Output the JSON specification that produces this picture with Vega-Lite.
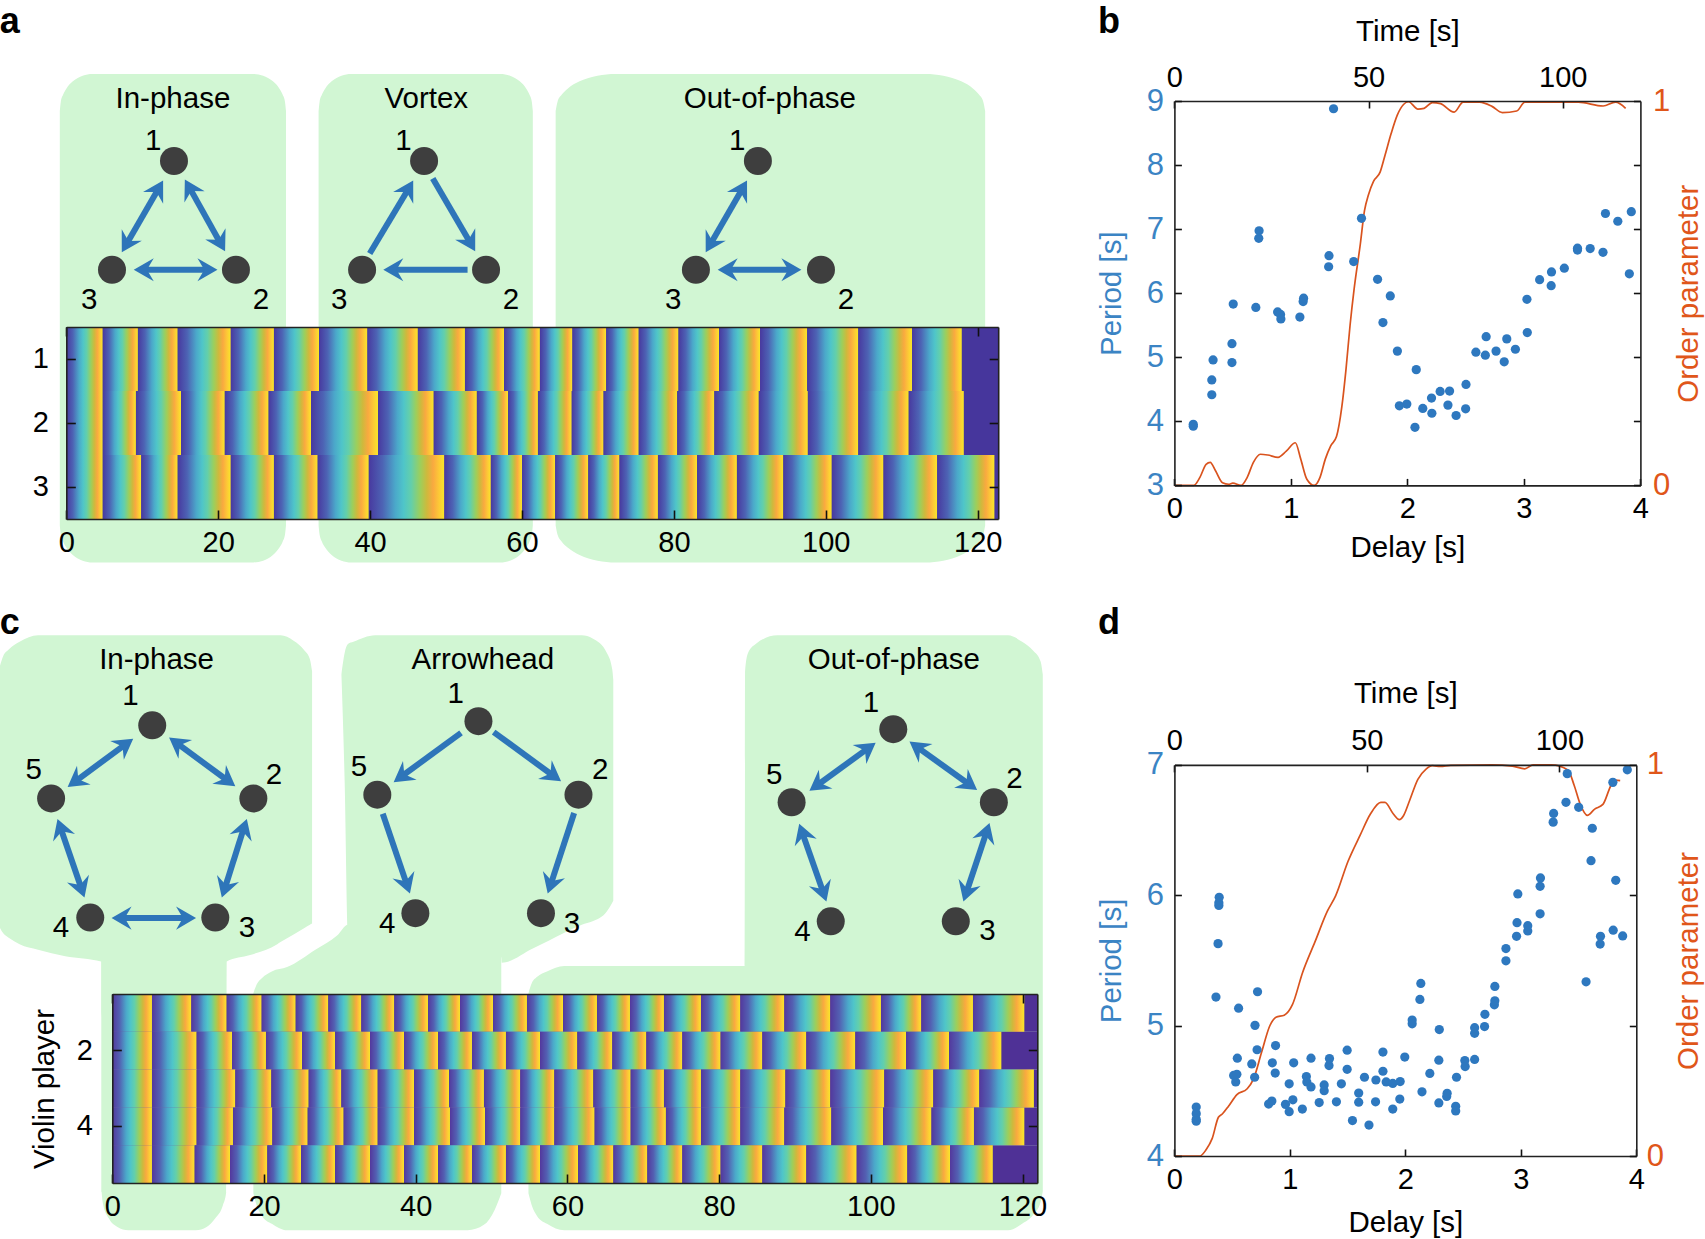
{
"$schema":"https://vega.github.io/schema/vega-lite/v6.json",
"width":1705,"height":1239,"padding":0,"autosize":{"type":"none"},"background":"white",
"config":{"view":{"stroke":null},"font":"Liberation Sans","text":{"font":"Liberation Sans"},
"axis":{"grid":false,"labelFont":"Liberation Sans","titleFont":"Liberation Sans","labelFontSize":29,"titleFontSize":29.5,"titleFontWeight":"normal","labelColor":"#000","titleColor":"#000","domainColor":"#222","domainWidth":1.6,"tickColor":"#111","tickWidth":1.6,"tickSize":-7,"labelPadding":16,"labelOverlap":false,"labelFlush":false,"labelBound":false}},
"datasets":{
"blobs":[
{"blob":"a1","x":55,"top":102,"bottom":483},{"blob":"a1","x":55.9,"top":93.7,"bottom":491.3},{"blob":"a1","x":58,"top":87.2,"bottom":497.8},{"blob":"a1","x":61,"top":81.6,"bottom":503.4},{"blob":"a1","x":67,"top":74.8,"bottom":510.2},{"blob":"a1","x":76,"top":69.6,"bottom":515.4},{"blob":"a1","x":85,"top":68,"bottom":517},{"blob":"a1","x":233,"top":68,"bottom":517},{"blob":"a1","x":242,"top":69.6,"bottom":515.4},{"blob":"a1","x":251,"top":74.8,"bottom":510.2},{"blob":"a1","x":257,"top":81.6,"bottom":503.4},{"blob":"a1","x":260,"top":87.2,"bottom":497.8},{"blob":"a1","x":262.1,"top":93.7,"bottom":491.3},{"blob":"a1","x":263,"top":102,"bottom":483},
{"blob":"a2","x":293,"top":102,"bottom":483},{"blob":"a2","x":293.9,"top":93.7,"bottom":491.3},{"blob":"a2","x":296,"top":87.2,"bottom":497.8},{"blob":"a2","x":299,"top":81.6,"bottom":503.4},{"blob":"a2","x":305,"top":74.8,"bottom":510.2},{"blob":"a2","x":314,"top":69.6,"bottom":515.4},{"blob":"a2","x":323,"top":68,"bottom":517},{"blob":"a2","x":460,"top":68,"bottom":517},{"blob":"a2","x":469,"top":69.6,"bottom":515.4},{"blob":"a2","x":478,"top":74.8,"bottom":510.2},{"blob":"a2","x":484,"top":81.6,"bottom":503.4},{"blob":"a2","x":487,"top":87.2,"bottom":497.8},{"blob":"a2","x":489.1,"top":93.7,"bottom":491.3},{"blob":"a2","x":490,"top":102,"bottom":483},
{"blob":"a3","x":511,"top":102,"bottom":483},{"blob":"a3","x":512.7,"top":93.7,"bottom":491.3},{"blob":"a3","x":516.5,"top":87.2,"bottom":497.8},{"blob":"a3","x":522,"top":81.6,"bottom":503.4},{"blob":"a3","x":533,"top":74.8,"bottom":510.2},{"blob":"a3","x":549.5,"top":69.6,"bottom":515.4},{"blob":"a3","x":566,"top":68,"bottom":517},{"blob":"a3","x":851,"top":68,"bottom":517},{"blob":"a3","x":867.5,"top":69.6,"bottom":515.4},{"blob":"a3","x":884,"top":74.8,"bottom":510.2},{"blob":"a3","x":895,"top":81.6,"bottom":503.4},{"blob":"a3","x":900.5,"top":87.2,"bottom":497.8},{"blob":"a3","x":904.3,"top":93.7,"bottom":491.3},{"blob":"a3","x":906,"top":102,"bottom":483},
{"blob":"c1","x":0,"top":612,"bottom":853},{"blob":"c1","x":3,"top":603,"bottom":858},{"blob":"c1","x":8,"top":597,"bottom":862},{"blob":"c1","x":18,"top":590,"bottom":868},{"blob":"c1","x":35,"top":584,"bottom":873},{"blob":"c1","x":60,"top":584,"bottom":879},{"blob":"c1","x":93,"top":584,"bottom":884},{"blob":"c1","x":93.5,"top":584,"bottom":1096},{"blob":"c1","x":95,"top":584,"bottom":1108},{"blob":"c1","x":100,"top":584,"bottom":1120},{"blob":"c1","x":108,"top":584,"bottom":1128},{"blob":"c1","x":118,"top":584,"bottom":1131},{"blob":"c1","x":180,"top":584,"bottom":1131},{"blob":"c1","x":190,"top":584,"bottom":1128},{"blob":"c1","x":198,"top":584,"bottom":1120},{"blob":"c1","x":205,"top":584,"bottom":1108},{"blob":"c1","x":208,"top":584,"bottom":1096},{"blob":"c1","x":208.5,"top":584,"bottom":884},{"blob":"c1","x":230,"top":584,"bottom":878},{"blob":"c1","x":255,"top":584,"bottom":868},{"blob":"c1","x":258,"top":584,"bottom":866},{"blob":"c1","x":270,"top":589,"bottom":859},{"blob":"c1","x":280,"top":598,"bottom":853},{"blob":"c1","x":285,"top":606,"bottom":850},{"blob":"c1","x":287,"top":617,"bottom":849},
{"blob":"c2a","x":314,"top":620,"bottom":620},{"blob":"c2a","x":317,"top":600,"bottom":720},{"blob":"c2a","x":320,"top":592,"bottom":860},{"blob":"c2a","x":325,"top":590,"bottom":880},{"blob":"c2a","x":345,"top":584,"bottom":880},{"blob":"c2a","x":461,"top":584,"bottom":880},{"blob":"c2a","x":461.5,"top":584,"bottom":885},{"blob":"c2a","x":490,"top":584,"bottom":872},{"blob":"c2a","x":520,"top":584,"bottom":857},{"blob":"c2a","x":535,"top":584,"bottom":850},{"blob":"c2a","x":545,"top":587,"bottom":847},{"blob":"c2a","x":558,"top":600,"bottom":838},{"blob":"c2a","x":563,"top":615,"bottom":830},{"blob":"c2a","x":564,"top":625,"bottom":828},
{"blob":"c2b","x":233,"top":913,"bottom":1097},{"blob":"c2b","x":236,"top":905,"bottom":1108},{"blob":"c2b","x":241,"top":899,"bottom":1118},{"blob":"c2b","x":250,"top":893,"bottom":1125},{"blob":"c2b","x":264,"top":889,"bottom":1131},{"blob":"c2b","x":290,"top":873,"bottom":1131},{"blob":"c2b","x":310,"top":860,"bottom":1131},{"blob":"c2b","x":320,"top":850,"bottom":1131},{"blob":"c2b","x":430,"top":850,"bottom":1131},{"blob":"c2b","x":445,"top":850,"bottom":1126},{"blob":"c2b","x":455,"top":850,"bottom":1112},{"blob":"c2b","x":461,"top":850,"bottom":1097},
{"blob":"c3","x":486,"top":913,"bottom":1097},{"blob":"c3","x":489,"top":904,"bottom":1108},{"blob":"c3","x":494,"top":898,"bottom":1118},{"blob":"c3","x":503,"top":893,"bottom":1125},{"blob":"c3","x":519,"top":888,"bottom":1131},{"blob":"c3","x":685,"top":888,"bottom":1131},{"blob":"c3","x":685.2,"top":617,"bottom":1131},{"blob":"c3","x":688,"top":600,"bottom":1131},{"blob":"c3","x":695,"top":592,"bottom":1131},{"blob":"c3","x":715,"top":584,"bottom":1131},{"blob":"c3","x":927,"top":584,"bottom":1131},{"blob":"c3","x":940,"top":590,"bottom":1125},{"blob":"c3","x":950,"top":598,"bottom":1117},{"blob":"c3","x":957,"top":608,"bottom":1105},{"blob":"c3","x":959,"top":620,"bottom":1095}
],
"nodes":[
{"x":160,"y":148},{"x":217,"y":248},{"x":103,"y":248},
{"x":390,"y":148},{"x":447,"y":248},{"x":333,"y":248},
{"x":697,"y":148},{"x":755,"y":248},{"x":640,"y":248},
{"x":140,"y":666.8},{"x":233,"y":734},{"x":198,"y":843.5},{"x":83,"y":843.5},{"x":47,"y":734},
{"x":440,"y":663},{"x":532,"y":730.5},{"x":497.5,"y":839.5},{"x":382,"y":839.5},{"x":347,"y":730.5},
{"x":821.5,"y":670.3},{"x":914,"y":737.5},{"x":879,"y":847},{"x":764,"y":847},{"x":728,"y":737.5}
],
"shafts":[
{"x":146,"y":173,"xe":116,"ye":225},{"x":174,"y":172,"xe":203,"ye":224},{"x":131,"y":248,"xe":192,"ye":248},
{"x":340,"y":233,"xe":376,"ye":173},{"x":398,"y":164,"xe":433,"ye":224},{"x":430,"y":248,"xe":360,"ye":248},
{"x":683,"y":173,"xe":653,"ye":225},{"x":668,"y":248,"xe":729,"ye":248},
{"x":116,"y":683.8,"xe":68.7,"ye":718.7},{"x":162,"y":682.7,"xe":209.9,"ye":718},{"x":224.5,"y":760.4,"xe":206.5,"ye":817.5},{"x":55.5,"y":760.4,"xe":75.1,"ye":817.5},{"x":110.6,"y":844,"xe":172.3,"ye":844},
{"x":424,"y":673.7,"xe":368.5,"ye":714.3},{"x":454,"y":673,"xe":509.5,"ye":713.6},{"x":352,"y":748,"xe":374.4,"ye":813.9},{"x":528,"y":747.4,"xe":506.2,"ye":813.9},
{"x":798.8,"y":687.5,"xe":750.9,"ye":722.3},{"x":842.9,"y":686.4,"xe":892.1,"ye":721.6},{"x":737.6,"y":764.8,"xe":757.4,"ye":821.1},{"x":907.5,"y":764.1,"xe":888.5,"ye":821.1}
],
"heads":[
{"x":150,"y":166,"heading":30},{"x":112,"y":232,"heading":210},{"x":170,"y":165,"heading":331},{"x":207,"y":231,"heading":151},{"x":123,"y":248,"heading":270},{"x":200,"y":248,"heading":90},
{"x":380,"y":166,"heading":30},{"x":437,"y":231,"heading":150},{"x":352.5,"y":248,"heading":270},
{"x":687,"y":166,"heading":30},{"x":649,"y":232,"heading":210},{"x":660,"y":248,"heading":270},{"x":737,"y":248,"heading":90},
{"x":122.5,"y":679.1,"heading":54},{"x":62.2,"y":723.4,"heading":234},{"x":155.5,"y":678,"heading":306},{"x":216.4,"y":722.7,"heading":126},{"x":227,"y":752.8,"heading":18},{"x":204,"y":825.1,"heading":198},{"x":52.9,"y":752.8,"heading":341},{"x":77.7,"y":825.1,"heading":161},{"x":102.6,"y":844,"heading":270},{"x":180.3,"y":844,"heading":90},
{"x":362,"y":719,"heading":234},{"x":516,"y":718.3,"heading":126},{"x":377,"y":821.5,"heading":161},{"x":503.7,"y":821.5,"heading":198},
{"x":805.3,"y":682.8,"heading":54},{"x":744.4,"y":727,"heading":234},{"x":836.4,"y":681.7,"heading":306},{"x":898.6,"y":726.3,"heading":126},{"x":735,"y":757.2,"heading":341},{"x":760,"y":828.7,"heading":161},{"x":910,"y":756.5,"heading":18},{"x":886,"y":828.7,"heading":198}
],
"labels":[
{"x":159,"y":91,"t":"In-phase"},{"x":392,"y":91,"t":"Vortex"},{"x":708,"y":91,"t":"Out-of-phase"},{"x":144,"y":607,"t":"In-phase"},{"x":444,"y":607,"t":"Arrowhead"},{"x":822,"y":607,"t":"Out-of-phase"},
{"x":141,"y":130,"t":"1"},{"x":240,"y":276,"t":"2"},{"x":82,"y":276,"t":"3"},
{"x":371,"y":130,"t":"1"},{"x":470,"y":276,"t":"2"},{"x":312,"y":276,"t":"3"},
{"x":678,"y":130,"t":"1"},{"x":778,"y":276,"t":"2"},{"x":619,"y":276,"t":"3"},
{"x":120,"y":640,"t":"1"},{"x":252,"y":712,"t":"2"},{"x":227,"y":853,"t":"3"},{"x":56,"y":853,"t":"4"},{"x":31,"y":708,"t":"5"},
{"x":419,"y":638,"t":"1"},{"x":552,"y":708,"t":"2"},{"x":526,"y":849,"t":"3"},{"x":356,"y":849,"t":"4"},{"x":330,"y":705,"t":"5"},
{"x":801,"y":646,"t":"1"},{"x":933,"y":716,"t":"2"},{"x":908,"y":856,"t":"3"},{"x":738,"y":857,"t":"4"},{"x":712,"y":712,"t":"5"}
],
"letters":[{"x":9,"y":30,"t":"a"},{"x":1020,"y":30,"t":"b"},{"x":9,"y":583,"t":"c"},{"x":1020,"y":583,"t":"d"}],
"cyclesA":[
{"player":1,"start":0,"end":4.8},{"player":1,"start":4.8,"end":9.43},{"player":1,"start":9.43,"end":14.67},{"player":1,"start":14.67,"end":21.66},{"player":1,"start":21.66,"end":27.34},{"player":1,"start":27.34,"end":33.28},{"player":1,"start":33.28,"end":39.65},{"player":1,"start":39.65,"end":46.29},{"player":1,"start":46.29,"end":52.49},{"player":1,"start":52.49,"end":57.64},{"player":1,"start":57.64,"end":62.36},{"player":1,"start":62.36,"end":66.64},{"player":1,"start":66.64,"end":71.09},{"player":1,"start":71.09,"end":75.37},{"player":1,"start":75.37,"end":80.61},{"player":1,"start":80.61,"end":85.94},{"player":1,"start":85.94,"end":91.35},{"player":1,"start":91.35,"end":97.55},{"player":1,"start":97.55,"end":104.28},{"player":1,"start":104.28,"end":111.35},{"player":1,"start":111.35,"end":117.9},
{"player":2,"start":0,"end":4.8},{"player":2,"start":4.8,"end":9.17},{"player":2,"start":9.17,"end":15.11},{"player":2,"start":15.11,"end":20.87},{"player":2,"start":20.87,"end":26.64},{"player":2,"start":26.64,"end":32.23},{"player":2,"start":32.23,"end":41.05},{"player":2,"start":41.05,"end":48.38},{"player":2,"start":48.38,"end":54.06},{"player":2,"start":54.06,"end":58.17},{"player":2,"start":58.17,"end":62.1},{"player":2,"start":62.1,"end":66.55},{"player":2,"start":66.55,"end":70.74},{"player":2,"start":70.74,"end":75.37},{"player":2,"start":75.37,"end":80.44},{"player":2,"start":80.44,"end":85.33},{"player":2,"start":85.33,"end":91.18},{"player":2,"start":91.18,"end":97.64},{"player":2,"start":97.64,"end":104.28},{"player":2,"start":104.28,"end":110.92},{"player":2,"start":110.92,"end":118.17},
{"player":3,"start":0,"end":4.8},{"player":3,"start":4.8,"end":9.87},{"player":3,"start":9.87,"end":14.67},{"player":3,"start":14.67,"end":21.66},{"player":3,"start":21.66,"end":27.34},{"player":3,"start":27.34,"end":33.1},{"player":3,"start":33.1,"end":39.83},{"player":3,"start":39.83,"end":49.78},{"player":3,"start":49.78,"end":55.9},{"player":3,"start":55.9,"end":60},{"player":3,"start":60,"end":64.37},{"player":3,"start":64.37,"end":68.73},{"player":3,"start":68.73,"end":72.84},{"player":3,"start":72.84,"end":77.9},{"player":3,"start":77.9,"end":83.06},{"player":3,"start":83.06,"end":88.3},{"player":3,"start":88.3,"end":94.41},{"player":3,"start":94.41,"end":100.79},{"player":3,"start":100.79,"end":107.6},{"player":3,"start":107.6,"end":114.67},{"player":3,"start":114.67,"end":122.2}
],
"cyclesC":[
{"player":1,"start":0,"end":5.23},{"player":1,"start":5.23,"end":10.42},{"player":1,"start":10.42,"end":15.08},{"player":1,"start":15.08,"end":19.69},{"player":1,"start":19.69,"end":24.18},{"player":1,"start":24.18,"end":28.48},{"player":1,"start":28.48,"end":32.83},{"player":1,"start":32.83,"end":37.18},{"player":1,"start":37.18,"end":41.62},{"player":1,"start":41.62,"end":45.84},{"player":1,"start":45.84,"end":50.19},{"player":1,"start":50.19,"end":54.67},{"player":1,"start":54.67,"end":59.42},{"player":1,"start":59.42,"end":63.9},{"player":1,"start":63.9,"end":68.25},{"player":1,"start":68.25,"end":72.73},{"player":1,"start":72.73,"end":77.61},{"player":1,"start":77.61,"end":82.8},{"player":1,"start":82.8,"end":88.6},{"player":1,"start":88.6,"end":94.66},{"player":1,"start":94.66,"end":101.34},{"player":1,"start":101.34,"end":106.66},{"player":1,"start":106.66,"end":113.47},{"player":1,"start":113.47,"end":120.24},
{"player":2,"start":0,"end":5.23},{"player":2,"start":5.23,"end":11.12},{"player":2,"start":11.12,"end":15.78},{"player":2,"start":15.78,"end":20.26},{"player":2,"start":20.26,"end":25.01},{"player":2,"start":25.01,"end":29.36},{"player":2,"start":29.36,"end":33.98},{"player":2,"start":33.98,"end":38.46},{"player":2,"start":38.46,"end":42.94},{"player":2,"start":42.94,"end":47.42},{"player":2,"start":47.42,"end":51.9},{"player":2,"start":51.9,"end":56.39},{"player":2,"start":56.39,"end":61.31},{"player":2,"start":61.31,"end":65.92},{"player":2,"start":65.92,"end":70.41},{"player":2,"start":70.41,"end":75.15},{"player":2,"start":75.15,"end":80.2},{"player":2,"start":80.2,"end":85.7},{"player":2,"start":85.7,"end":91.5},{"player":2,"start":91.5,"end":97.96},{"player":2,"start":97.96,"end":104.64},{"player":2,"start":104.64,"end":110.31},{"player":2,"start":110.31,"end":117.21},
{"player":3,"start":0,"end":5.23},{"player":3,"start":5.23,"end":11.12},{"player":3,"start":11.12,"end":16.22},{"player":3,"start":16.22,"end":20.97},{"player":3,"start":20.97,"end":25.89},{"player":3,"start":25.89,"end":30.2},{"player":3,"start":30.2,"end":34.99},{"player":3,"start":34.99,"end":39.78},{"player":3,"start":39.78,"end":44.39},{"player":3,"start":44.39,"end":49},{"player":3,"start":49,"end":53.79},{"player":3,"start":53.79,"end":58.28},{"player":3,"start":58.28,"end":63.42},{"player":3,"start":63.42,"end":68.34},{"player":3,"start":68.34,"end":72.73},{"player":3,"start":72.73,"end":77.61},{"player":3,"start":77.61,"end":82.8},{"player":3,"start":82.8,"end":88.74},{"player":3,"start":88.74,"end":94.66},{"player":3,"start":94.66,"end":101.78},{"player":3,"start":101.78,"end":108.24},{"player":3,"start":108.24,"end":114.31},{"player":3,"start":114.31,"end":121.5},
{"player":4,"start":0,"end":5.23},{"player":4,"start":5.23,"end":11.12},{"player":4,"start":11.12,"end":15.91},{"player":4,"start":15.91,"end":21.1},{"player":4,"start":21.1,"end":25.76},{"player":4,"start":25.76,"end":30.5},{"player":4,"start":30.5,"end":34.99},{"player":4,"start":34.99,"end":39.78},{"player":4,"start":39.78,"end":44.52},{"player":4,"start":44.52,"end":49.14},{"player":4,"start":49.14,"end":53.79},{"player":4,"start":53.79,"end":58.28},{"player":4,"start":58.28,"end":63.59},{"player":4,"start":63.59,"end":68.34},{"player":4,"start":68.34,"end":72.99},{"player":4,"start":72.99,"end":77.61},{"player":4,"start":77.61,"end":82.8},{"player":4,"start":82.8,"end":88.6},{"player":4,"start":88.6,"end":94.8},{"player":4,"start":94.8,"end":101.61},{"player":4,"start":101.61,"end":108},{"player":4,"start":108,"end":113.6},{"player":4,"start":113.6,"end":120.24},
{"player":5,"start":0,"end":5.23},{"player":5,"start":5.23,"end":10.86},{"player":5,"start":10.86,"end":15.52},{"player":5,"start":15.52,"end":20.44},{"player":5,"start":20.44,"end":24.88},{"player":5,"start":24.88,"end":29.36},{"player":5,"start":29.36,"end":33.98},{"player":5,"start":33.98,"end":38.46},{"player":5,"start":38.46,"end":42.94},{"player":5,"start":42.94,"end":47.42},{"player":5,"start":47.42,"end":51.9},{"player":5,"start":51.9,"end":56.39},{"player":5,"start":56.39,"end":61.4},{"player":5,"start":61.4,"end":66.06},{"player":5,"start":66.06,"end":70.54},{"player":5,"start":70.54,"end":75.15},{"player":5,"start":75.15,"end":80.2},{"player":5,"start":80.2,"end":85.7},{"player":5,"start":85.7,"end":91.5},{"player":5,"start":91.5,"end":98.14},{"player":5,"start":98.14,"end":104.82},{"player":5,"start":104.82,"end":110.45},{"player":5,"start":110.45,"end":116.08}
],
"periodB":[
{"delay":0.162,"period":3.953},{"delay":0.162,"period":3.924},{"delay":0.321,"period":4.415},{"delay":0.321,"period":4.646},{"delay":0.332,"period":4.958},{"delay":0.494,"period":4.917},{"delay":0.494,"period":5.212},{"delay":0.505,"period":5.83},{"delay":0.699,"period":5.778},{"delay":0.724,"period":6.857},{"delay":0.727,"period":6.973},{"delay":0.886,"period":5.708},{"delay":0.911,"period":5.668},{"delay":0.914,"period":5.599},{"delay":1.077,"period":5.627},{"delay":1.105,"period":5.87},{"delay":1.109,"period":5.922},{"delay":1.324,"period":6.413},{"delay":1.327,"period":6.586},{"delay":1.366,"period":8.879},{"delay":1.539,"period":6.494},{"delay":1.606,"period":7.169},{"delay":1.744,"period":6.217},{"delay":1.79,"period":5.541},{"delay":1.853,"period":5.957},{"delay":1.914,"period":5.096},{"delay":1.931,"period":4.242},{"delay":1.995,"period":4.27},{"delay":2.065,"period":3.907},{"delay":2.076,"period":4.807},{"delay":2.132,"period":4.201},{"delay":2.207,"period":4.363},{"delay":2.21,"period":4.126},{"delay":2.281,"period":4.467},{"delay":2.348,"period":4.253},{"delay":2.362,"period":4.473},{"delay":2.418,"period":4.091},{"delay":2.5,"period":4.195},{"delay":2.503,"period":4.576},{"delay":2.588,"period":5.079},{"delay":2.669,"period":5.033},{"delay":2.676,"period":5.321},{"delay":2.761,"period":5.096},{"delay":2.831,"period":4.929},{"delay":2.853,"period":5.287},{"delay":2.927,"period":5.125},{"delay":3.029,"period":5.385},{"delay":3.026,"period":5.905},{"delay":3.135,"period":6.211},{"delay":3.234,"period":6.118},{"delay":3.237,"period":6.332},{"delay":3.347,"period":6.39},{"delay":3.46,"period":6.702},{"delay":3.46,"period":6.673},{"delay":3.569,"period":6.696},{"delay":3.679,"period":6.638},{"delay":3.7,"period":7.244},{"delay":3.806,"period":7.123},{"delay":3.905,"period":6.303},{"delay":3.922,"period":7.273}
],
"orderB":[
{"time":0,"order":0},{"time":4.98,"order":0},{"time":6.57,"order":0.021},{"time":8.16,"order":0.055},{"time":9.22,"order":0.06},{"time":10.59,"order":0.038},{"time":12.39,"order":0.007},{"time":13.98,"order":0.003},{"time":15.04,"order":0.006},{"time":17.16,"order":0},{"time":18.75,"order":0.021},{"time":20.34,"order":0.06},{"time":22.14,"order":0.081},{"time":24.05,"order":0.079},{"time":26.69,"order":0.073},{"time":28.81,"order":0.089},{"time":31.14,"order":0.111},{"time":32.52,"order":0.069},{"time":34.11,"order":0.016},{"time":36.02,"order":0},{"time":37.5,"order":0.021},{"time":38.88,"order":0.069},{"time":40.25,"order":0.103},{"time":41.74,"order":0.127},{"time":43.11,"order":0.204},{"time":44.17,"order":0.3},{"time":45.23,"order":0.416},{"time":46.29,"order":0.512},{"time":47.88,"order":0.628},{"time":48.94,"order":0.714},{"time":50,"order":0.757},{"time":51.27,"order":0.791},{"time":52.97,"order":0.815},{"time":54.24,"order":0.859},{"time":55.83,"order":0.916},{"time":57.42,"order":0.964},{"time":59,"order":0.991},{"time":60.28,"order":0.998},{"time":62.71,"order":0.979},{"time":64.3,"order":0.981},{"time":66.42,"order":0.996},{"time":68.54,"order":0.993},{"time":72.03,"order":0.971},{"time":74.36,"order":0.997},{"time":78.6,"order":0.997},{"time":81.78,"order":0.986},{"time":84.43,"order":0.97},{"time":88.14,"order":0.974},{"time":90.25,"order":0.997},{"time":96.6,"order":0.997},{"time":104,"order":0.997},{"time":110.4,"order":0.987},{"time":113.6,"order":0.997},{"time":116.2,"order":0.981}
],
"periodD":[
{"delay":0.189,"period":4.375},{"delay":0.189,"period":4.325},{"delay":0.189,"period":4.281},{"delay":0.189,"period":4.267},{"delay":0.36,"period":5.219},{"delay":0.378,"period":5.629},{"delay":0.385,"period":5.922},{"delay":0.385,"period":5.943},{"delay":0.388,"period":5.984},{"delay":0.513,"period":4.618},{"delay":0.531,"period":4.568},{"delay":0.541,"period":4.627},{"delay":0.545,"period":4.75},{"delay":0.556,"period":5.134},{"delay":0.67,"period":4.706},{"delay":0.695,"period":4.604},{"delay":0.698,"period":5.002},{"delay":0.716,"period":4.815},{"delay":0.72,"period":5.26},{"delay":0.816,"period":4.398},{"delay":0.844,"period":4.422},{"delay":0.848,"period":4.715},{"delay":0.873,"period":4.636},{"delay":0.876,"period":4.847},{"delay":0.962,"period":4.396},{"delay":0.994,"period":4.34},{"delay":0.994,"period":4.554},{"delay":1.026,"period":4.431},{"delay":1.033,"period":4.715},{"delay":1.108,"period":4.36},{"delay":1.143,"period":4.609},{"delay":1.147,"period":4.568},{"delay":1.183,"period":4.53},{"delay":1.183,"period":4.75},{"delay":1.254,"period":4.41},{"delay":1.297,"period":4.545},{"delay":1.297,"period":4.501},{"delay":1.339,"period":4.694},{"delay":1.343,"period":4.747},{"delay":1.403,"period":4.416},{"delay":1.446,"period":4.554},{"delay":1.496,"period":4.665},{"delay":1.496,"period":4.812},{"delay":1.542,"period":4.272},{"delay":1.596,"period":4.483},{"delay":1.596,"period":4.413},{"delay":1.646,"period":4.604},{"delay":1.685,"period":4.237},{"delay":1.742,"period":4.416},{"delay":1.745,"period":4.583},{"delay":1.806,"period":4.65},{"delay":1.806,"period":4.797},{"delay":1.834,"period":4.568},{"delay":1.891,"period":4.557},{"delay":1.891,"period":4.36},{"delay":1.952,"period":4.437},{"delay":1.955,"period":4.571},{"delay":1.995,"period":4.759},{"delay":2.059,"period":5.043},{"delay":2.059,"period":5.014},{"delay":2.126,"period":5.201},{"delay":2.134,"period":5.324},{"delay":2.144,"period":4.492},{"delay":2.212,"period":4.633},{"delay":2.29,"period":4.407},{"delay":2.29,"period":4.735},{"delay":2.294,"period":4.97},{"delay":2.358,"period":4.457},{"delay":2.362,"period":4.481},{"delay":2.436,"period":4.381},{"delay":2.436,"period":4.346},{"delay":2.443,"period":4.604},{"delay":2.515,"period":4.732},{"delay":2.518,"period":4.686},{"delay":2.6,"period":4.941},{"delay":2.6,"period":4.984},{"delay":2.6,"period":4.741},{"delay":2.689,"period":5.087},{"delay":2.686,"period":4.993},{"delay":2.771,"period":5.16},{"delay":2.775,"period":5.19},{"delay":2.775,"period":5.301},{"delay":2.871,"period":5.497},{"delay":2.871,"period":5.591},{"delay":2.963,"period":5.685},{"delay":2.967,"period":5.79},{"delay":2.974,"period":6.01},{"delay":3.06,"period":5.726},{"delay":3.06,"period":5.767},{"delay":3.167,"period":5.858},{"delay":3.167,"period":6.069},{"delay":3.17,"period":6.133},{"delay":3.28,"period":6.561},{"delay":3.284,"period":6.628},{"delay":3.391,"period":6.713},{"delay":3.402,"period":6.933},{"delay":3.501,"period":6.675},{"delay":3.565,"period":5.336},{"delay":3.608,"period":6.265},{"delay":3.619,"period":6.514},{"delay":3.687,"period":5.626},{"delay":3.69,"period":5.685},{"delay":3.797,"period":6.866},{"delay":3.8,"period":5.732},{"delay":3.822,"period":6.115},{"delay":3.882,"period":5.688},{"delay":3.922,"period":6.962}
],
"orderD":[
{"time":0,"order":0},{"time":6.62,"order":0},{"time":8.23,"order":0.016},{"time":9.83,"order":0.045},{"time":11.43,"order":0.099},{"time":12.5,"order":0.108},{"time":14.1,"order":0.128},{"time":16.24,"order":0.157},{"time":18.91,"order":0.172},{"time":20.51,"order":0.196},{"time":22.65,"order":0.265},{"time":24.79,"order":0.333},{"time":26.39,"order":0.355},{"time":28.53,"order":0.36},{"time":30.66,"order":0.387},{"time":33.33,"order":0.47},{"time":36.54,"order":0.548},{"time":39.74,"order":0.626},{"time":41.88,"order":0.665},{"time":45.09,"order":0.753},{"time":48.29,"order":0.821},{"time":50.96,"order":0.875},{"time":53.63,"order":0.904},{"time":54.7,"order":0.904},{"time":56.84,"order":0.875},{"time":58.44,"order":0.86},{"time":59.51,"order":0.87},{"time":61.11,"order":0.909},{"time":63.25,"order":0.963},{"time":65.38,"order":0.989},{"time":66.99,"order":0.998},{"time":69.12,"order":0.996},{"time":71.79,"order":0.999},{"time":82.48,"order":1},{"time":87.82,"order":0.997},{"time":91.03,"order":0.99},{"time":93.16,"order":1},{"time":97.97,"order":1},{"time":102.24,"order":0.987},{"time":103.85,"order":0.948},{"time":105.45,"order":0.899},{"time":107.26,"order":0.871},{"time":109.19,"order":0.887},{"time":111.32,"order":0.899},{"time":113.46,"order":0.948},{"time":114.53,"order":0.961},{"time":115.81,"order":0.96}
]
},
"resolve":{"scale":{"x":"independent","y":"independent"},"axis":{"x":"independent","y":"independent"}},
"layer":[
{"encoding":{"x":{"field":"x","type":"quantitative","scale":{"domain":[0,1568],"range":[0,1705],"nice":false,"zero":false},"axis":null},"y":{"field":"y","type":"quantitative","scale":{"domain":[0,1139],"range":[0,1239],"nice":false,"zero":false},"axis":null}},
"layer":[
{"data":{"name":"blobs"},"mark":{"type":"area","fill":"#d1f6d3","opacity":1,"interpolate":"monotone"},"encoding":{"y":{"field":"top","type":"quantitative"},"y2":{"field":"bottom"},"detail":{"field":"blob"}}},
{"data":{"name":"shafts"},"mark":{"type":"rule","stroke":"#2e75b9","strokeWidth":6},"encoding":{"x2":{"field":"xe"},"y2":{"field":"ye"}}},
{"data":{"name":"heads"},"mark":{"type":"point","filled":true,"fill":"#2e75b9","stroke":null,"opacity":1,"size":1600,"shape":"M0,0 L0.58,1 L0,0.66 L-0.58,1 Z"},"encoding":{"angle":{"field":"heading","type":"quantitative","scale":null}}},
{"data":{"name":"nodes"},"mark":{"type":"circle","fill":"#3e3e3e","opacity":1,"size":784}},
{"data":{"name":"labels"},"mark":{"type":"text","fontSize":29.5,"color":"#000","align":"center","baseline":"middle"},"encoding":{"text":{"field":"t"}}},
{"data":{"name":"letters"},"mark":{"type":"text","fontSize":36,"fontWeight":"bold","color":"#000","align":"center","baseline":"alphabetic"},"encoding":{"text":{"field":"t"}}}
]},
{"data":{"values":[{"player":1,"start":0,"end":122.7},{"player":2,"start":0,"end":122.7},{"player":3,"start":0,"end":122.7}]},
"mark":{"type":"rect","fill":"#46369c","stroke":null},
"encoding":{"x":{"field":"start","type":"quantitative","scale":{"domain":[0,122.7],"range":[66.3,998.2],"nice":false,"zero":false},"axis":{"orient":"top","offset":-327,"values":[0,120],"labels":false,"title":null,"zindex":1,"tickSize":-9}},"x2":{"field":"end"},"y":{"field":"player","type":"ordinal","scale":{"type":"band","domain":[1,2,3],"range":[327,519],"paddingInner":0,"paddingOuter":0},"axis":{"orient":"right","offset":-706.8,"labels":false,"title":null,"zindex":1,"tickSize":-9}}}},
{"data":{"name":"cyclesA"},
"mark":{"type":"rect","stroke":null,"fill":{"gradient":"linear","x1":0,"y1":0,"x2":1,"y2":0,"stops":[{"offset":0,"color":"#48399f"},{"offset":0.18,"color":"#4d63b4"},{"offset":0.35,"color":"#4ba8ca"},{"offset":0.46,"color":"#4fc5c9"},{"offset":0.56,"color":"#63cfab"},{"offset":0.68,"color":"#9ccf5c"},{"offset":0.77,"color":"#cfb93c"},{"offset":0.85,"color":"#f9a940"},{"offset":0.93,"color":"#fdc936"},{"offset":1,"color":"#f8e729"}]}},
"encoding":{"x":{"field":"start","type":"quantitative","scale":{"domain":[0,122.7],"range":[66.3,998.2],"nice":false,"zero":false},"axis":{"orient":"bottom","offset":-720,"values":[0,20,40,60,80,100,120],"title":null,"zindex":1,"tickSize":-9,"labelPadding":18}},"x2":{"field":"end"},"y":{"field":"player","type":"ordinal","scale":{"type":"band","domain":[1,2,3],"range":[327,519],"paddingInner":0,"paddingOuter":0},"axis":{"orient":"left","offset":-66.3,"title":null,"labelAngle":0,"zindex":1,"tickSize":-9,"labelPadding":27}}}},
{"data":{"values":[{"player":1,"start":0,"end":121.95},{"player":2,"start":0,"end":121.95},{"player":3,"start":0,"end":121.95},{"player":4,"start":0,"end":121.95},{"player":5,"start":0,"end":121.95}]},
"mark":{"type":"rect","fill":"#4f3196","stroke":null},
"encoding":{"x":{"field":"start","type":"quantitative","scale":{"domain":[0,121.95],"range":[112.3,1037.3],"nice":false,"zero":false},"axis":{"orient":"top","offset":-994,"values":[0,120],"labels":false,"title":null,"zindex":1,"tickSize":-9}},"x2":{"field":"end"},"y":{"field":"player","type":"ordinal","scale":{"type":"band","domain":[1,2,3,4,5],"range":[994,1183],"paddingInner":0,"paddingOuter":0},"axis":{"orient":"right","offset":-667.7,"values":[2,4],"labels":false,"title":null,"zindex":1,"tickSize":-9}}}},
{"data":{"name":"cyclesC"},
"mark":{"type":"rect","stroke":null,"fill":{"gradient":"linear","x1":0,"y1":0,"x2":1,"y2":0,"stops":[{"offset":0,"color":"#53389d"},{"offset":0.18,"color":"#5360b2"},{"offset":0.35,"color":"#4ba8ca"},{"offset":0.46,"color":"#4fc5c9"},{"offset":0.56,"color":"#63cfab"},{"offset":0.68,"color":"#9ccf5c"},{"offset":0.77,"color":"#cfb93c"},{"offset":0.85,"color":"#f9a940"},{"offset":0.93,"color":"#fdc936"},{"offset":1,"color":"#f8e729"}]}},
"encoding":{"x":{"field":"start","type":"quantitative","scale":{"domain":[0,121.95],"range":[112.3,1037.3],"nice":false,"zero":false},"axis":{"orient":"bottom","offset":-56,"values":[0,20,40,60,80,100,120],"title":null,"zindex":1,"tickSize":-9,"labelPadding":18}},"x2":{"field":"end"},"y":{"field":"player","type":"ordinal","scale":{"type":"band","domain":[1,2,3,4,5],"range":[994,1183],"paddingInner":0,"paddingOuter":0},"axis":{"orient":"left","offset":-112.3,"values":[2,4],"title":"Violin player","titlePadding":17,"labelAngle":0,"zindex":1,"tickSize":-9,"labelPadding":29}}}},
{"data":{"name":"orderB"},"mark":{"type":"line","stroke":"#d9531e","strokeWidth":1.7,"interpolate":"monotone"},
"encoding":{"x":{"field":"time","type":"quantitative","scale":{"domain":[0,120],"range":[1174.4,1640.4],"nice":false,"zero":false},"axis":{"orient":"top","offset":-101,"values":[0,50,100],"title":"Time [s]","titlePadding":17,"zindex":1}},"y":{"field":"order","type":"quantitative","scale":{"domain":[0,1],"range":[485.4,101],"nice":false,"zero":false},"axis":{"orient":"right","offset":-64.6,"values":[0,0.16667,0.33333,0.5,0.66667,0.83333,1],"labelExpr":"datum.value==0?'0':(datum.value==1?'1':'')","labelColor":"#e0561a","labelFontSize":31,"labelPadding":19,"title":"Order parameter","titleColor":"#e0561a","titleAngle":270,"titlePadding":34,"zindex":1}}}},
{"data":{"name":"periodB"},"mark":{"type":"circle","fill":"#2e78bf","opacity":1,"size":85},
"encoding":{"x":{"field":"delay","type":"quantitative","scale":{"domain":[0,4],"range":[1174.4,1640.4],"nice":false,"zero":false},"axis":{"orient":"bottom","offset":-753.6,"values":[0,1,2,3,4],"title":"Delay [s]","titlePadding":10,"zindex":1}},"y":{"field":"period","type":"quantitative","scale":{"domain":[3,9],"range":[485.4,101],"nice":false,"zero":false},"axis":{"orient":"left","offset":-1174.4,"values":[3,4,5,6,7,8,9],"labelColor":"#3b84c4","labelFontSize":31,"labelPadding":18,"title":"Period [s]","titleColor":"#3b84c4","titlePadding":20,"zindex":1}}}},
{"data":{"name":"orderD"},"mark":{"type":"line","stroke":"#d9531e","strokeWidth":1.7,"interpolate":"monotone"},
"encoding":{"x":{"field":"time","type":"quantitative","scale":{"domain":[0,120],"range":[1174.4,1636.3],"nice":false,"zero":false},"axis":{"orient":"top","offset":-764.9,"values":[0,50,100],"title":"Time [s]","titlePadding":18,"zindex":1}},"y":{"field":"order","type":"quantitative","scale":{"domain":[0,1],"range":[1156,764.9],"nice":false,"zero":false},"axis":{"orient":"right","offset":-68.7,"values":[0,0.33333,0.66667,1],"labelExpr":"datum.value==0?'0':(datum.value==1?'1':'')","labelColor":"#e0561a","labelFontSize":31,"labelPadding":17,"title":"Order parameter","titleColor":"#e0561a","titleAngle":270,"titlePadding":40,"zindex":1}}}},
{"data":{"name":"periodD"},"mark":{"type":"circle","fill":"#2e78bf","opacity":1,"size":85},
"encoding":{"x":{"field":"delay","type":"quantitative","scale":{"domain":[0,4],"range":[1174.4,1636.3],"nice":false,"zero":false},"axis":{"orient":"bottom","offset":-83,"values":[0,1,2,3,4],"title":"Delay [s]","titlePadding":14,"zindex":1}},"y":{"field":"period","type":"quantitative","scale":{"domain":[4,7],"range":[1156,764.9],"nice":false,"zero":false},"axis":{"orient":"left","offset":-1174.4,"values":[4,5,6,7],"labelColor":"#3b84c4","labelFontSize":31,"labelPadding":18,"title":"Period [s]","titleColor":"#3b84c4","titlePadding":20,"zindex":1}}}}
]
}
